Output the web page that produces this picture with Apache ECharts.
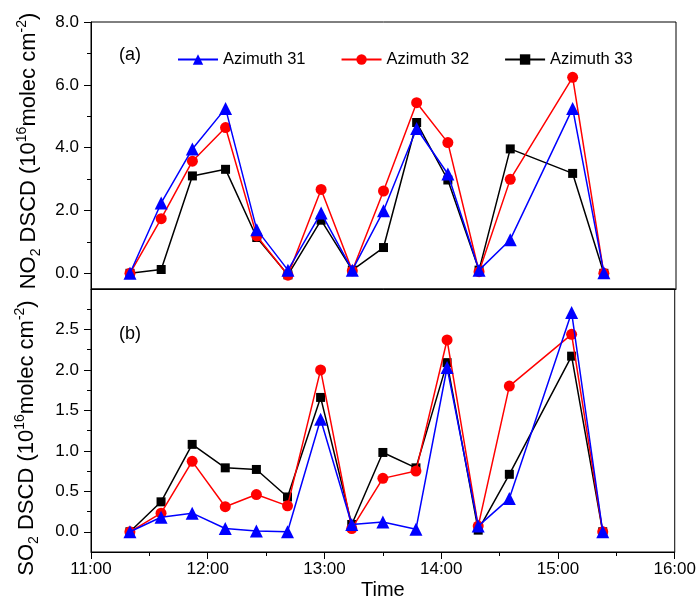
<!DOCTYPE html>
<html>
<head>
<meta charset="utf-8">
<script src="https://cdn.jsdelivr.net/npm/echarts@6/dist/echarts.min.js"></script>
<style>
  html, body { margin: 0; background: #ffffff; }
  #main { width: 699px; height: 601px; }
</style>
</head>
<body>
<div id="main"></div>
<script>
// sampling times (hh:mm)
const times = ["11:20", "11:36", "11:52", "12:09", "12:25", "12:41", "12:58", "13:14",
  "13:30", "13:47", "14:03", "14:19", "14:35", "15:07", "15:23"];

// NO2 DSCD (1e16 molec cm-2)
const no2Az31 = [0.0, 2.24, 3.96, 5.25, 1.39, 0.1, 1.92, 0.1, 1.99, 4.61, 3.16, 0.1, 1.07, 5.25, 0.02];
const no2Az32 = [0.0, 1.74, 3.57, 4.64, 1.19, -0.06, 2.67, 0.08, 2.62, 5.43, 4.16, 0.05, 2.99, 6.24, 0.0];
const no2Az33 = [0.0, 0.12, 3.1, 3.31, 1.14, -0.05, 1.69, 0.1, 0.82, 4.8, 2.97, 0.1, 3.96, 3.18, 0.0];

// SO2 DSCD (1e16 molec cm-2)
const so2Az31 = [0.0, 0.18, 0.23, 0.04, 0.01, 0.0, 1.39, 0.09, 0.12, 0.03, 2.03, 0.07, 0.41, 2.71, 0.0];
const so2Az32 = [0.0, 0.23, 0.87, 0.31, 0.46, 0.32, 2.0, 0.04, 0.66, 0.75, 2.37, 0.07, 1.8, 2.44, 0.0];
const so2Az33 = [0.0, 0.37, 1.08, 0.79, 0.77, 0.43, 1.66, 0.09, 0.98, 0.79, 2.09, 0.02, 0.71, 2.17, 0.0];

// tick labels
const no2Ticks = [0, 2, 4, 6, 8];
const no2Minor = [1, 3, 5, 7];
const so2Ticks = [0, 0.5, 1.0, 1.5, 2.0, 2.5];
const so2Minor = [0.25, 0.75, 1.25, 1.75, 2.25, 2.75];

const FONT = "Liberation Sans, Arial, sans-serif";

function toMin(t) {
  const p = t.split(":");
  return Number(p[0]) * 60 + Number(p[1]);
}
function pairs(vals) {
  return vals.map((v, i) => [toMin(times[i]), v]);
}

const chart = echarts.init(document.getElementById("main"));

// rich styles for NO2 / SO2 axis titles (subscript / superscript)
const nameRich = {
  n: { fontSize: 22, lineHeight: 28, fontFamily: FONT, fill: "#000" },
  s: { fontSize: 14, lineHeight: 14, verticalAlign: "bottom", fontFamily: FONT, fill: "#000" },
  p: { fontSize: 14, lineHeight: 14, verticalAlign: "top", fontFamily: FONT, fill: "#000" },
};
function axisTitle(gas) {
  return "{n|" + gas + "}{s|2}{n| DSCD (10}{p|16}{n|molec cm}{p|-2}{n|)}";
}

function mainY(gridIndex, min, max, ticks) {
  return {
    type: "value",
    gridIndex: gridIndex,
    min: min,
    max: max,
    splitLine: { show: false },
    axisLine: { show: true, lineStyle: { color: "#000", width: 1 } },
    axisTick: { show: true, inside: false, length: 7, customValues: ticks, lineStyle: { color: "#000" } },
    axisLabel: {
      show: true,
      customValues: ticks,
      color: "#000",
      fontSize: 17,
      fontFamily: FONT,
      margin: 12,
      formatter: (v) => Number(v).toFixed(1),
    },
  };
}
function minorY(gridIndex, min, max, ticks) {
  return {
    type: "value",
    gridIndex: gridIndex,
    min: min,
    max: max,
    position: "left",
    splitLine: { show: false },
    axisLine: { show: false },
    axisTick: { show: true, length: 4, customValues: ticks, lineStyle: { color: "#000" } },
    axisLabel: { show: false },
  };
}

function line(name, data, xi, yi, symbol, size, color, z) {
  return {
    name: name,
    type: "line",
    xAxisIndex: xi,
    yAxisIndex: yi,
    data: pairs(data),
    symbol: symbol,
    symbolSize: size,
    z: z,
    itemStyle: { color: color },
    lineStyle: { color: color, width: 1.5 },
    emphasis: { disabled: true },
  };
}

chart.setOption({
  animation: false,
  backgroundColor: "#ffffff",
  textStyle: { fontFamily: FONT },
  grid: [
    { left: 91, right: 23, top: 22, height: 267, show: true, borderColor: "#000", borderWidth: 1 },
    { left: 91, right: 23, top: 289, height: 264, show: true, borderColor: "#000", borderWidth: 1 },
  ],
  legend: {
    data: ["Azimuth 31", "Azimuth 32", "Azimuth 33"],
    left: 172,
    top: 46,
    itemWidth: 40,
    itemHeight: 13,
    itemGap: 35,
    textStyle: { color: "#000", fontSize: 16.5, fontFamily: FONT },
  },
  xAxis: [
    {
      type: "value",
      gridIndex: 0,
      min: 660,
      max: 960,
      interval: 60,
      splitLine: { show: false },
      axisLine: { show: true, onZero: false, lineStyle: { color: "#000" } },
      axisTick: { show: false },
      axisLabel: { show: false },
    },
    {
      type: "value",
      gridIndex: 1,
      min: 660,
      max: 960,
      interval: 60,
      name: "Time",
      nameLocation: "middle",
      nameGap: 28,
      nameTextStyle: { color: "#000", fontSize: 20, fontFamily: FONT },
      splitLine: { show: false },
      axisLine: { show: true, onZero: false, lineStyle: { color: "#000" } },
      axisTick: { show: true, length: 7, lineStyle: { color: "#000" } },
      minorTick: { show: true, splitNumber: 2, length: 4, lineStyle: { color: "#000" } },
      axisLabel: {
        color: "#000",
        fontSize: 17,
        fontFamily: FONT,
        margin: 9,
        formatter: (v) => Math.floor(v / 60) + ":00",
      },
    },
  ],
  yAxis: [
    mainY(0, -0.5, 8, no2Ticks),
    mainY(1, -0.25, 3.0, so2Ticks),
    minorY(0, -0.5, 8, no2Minor),
    minorY(1, -0.25, 3.0, so2Minor),
  ],
  series: [
    line("Azimuth 33", no2Az33, 0, 0, "rect", 9, "#000000", 2),
    line("Azimuth 32", no2Az32, 0, 0, "circle", 11, "#ff0000", 3),
    line("Azimuth 31", no2Az31, 0, 0, "triangle", 13, "#0000ff", 4),
    line("Azimuth 33", so2Az33, 1, 1, "rect", 9, "#000000", 2),
    line("Azimuth 32", so2Az32, 1, 1, "circle", 11, "#ff0000", 3),
    line("Azimuth 31", so2Az31, 1, 1, "triangle", 13, "#0000ff", 4),
  ],
  graphic: [
    { type: "text", left: 119, top: 46, style: { text: "(a)", fill: "#000", font: "18px " + FONT } },
    { type: "text", left: 119, top: 325, style: { text: "(b)", fill: "#000", font: "18px " + FONT } },
    {
      type: "text", x: 29, y: 151, rotation: Math.PI / 2,
      style: { text: axisTitle("NO"), rich: nameRich, align: "center", verticalAlign: "middle", fill: "#000" },
    },
    {
      type: "text", x: 27, y: 438, rotation: Math.PI / 2,
      style: { text: axisTitle("SO"), rich: nameRich, align: "center", verticalAlign: "middle", fill: "#000" },
    },
  ],
});
</script>
</body>
</html>
